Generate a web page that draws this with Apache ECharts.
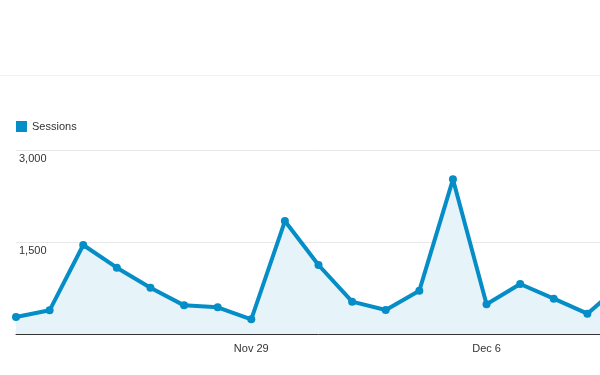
<!DOCTYPE html>
<html><head><meta charset="utf-8">
<script src="https://cdn.jsdelivr.net/npm/echarts@6/dist/echarts.min.js"></script>
<style>html,body{margin:0;padding:0;background:#fff;overflow:hidden;width:600px;height:375px}#c{width:630px;height:375px}</style>
</head><body><div id="c"></div>
<script>
const categories = ['Nov 22','Nov 23','Nov 24','Nov 25','Nov 26','Nov 27','Nov 28','Nov 29','Nov 30','Dec 1','Dec 2','Dec 3','Dec 4','Dec 5','Dec 6','Dec 7','Dec 8','Dec 9','Dec 10'];
const sessions = [277, 386, 1451, 1081, 755, 467, 435, 239, 1842, 1125, 527, 391, 706, 2522, 484, 815, 576, 331, 805];
const yTicks = [0, 1500, 3000];
const shownLabels = ['Nov 29', 'Dec 6'];

const chart = echarts.init(document.getElementById('c'), null, {renderer: 'canvas'});
chart.setOption({
  animation: false,
  backgroundColor: '#fff',
  textStyle: {fontFamily: 'Liberation Sans, Arial, sans-serif'},
  graphic: [{
    type: 'line', shape: {x1: 0, y1: 75.5, x2: 630, y2: 75.5},
    style: {stroke: '#f0f0f0', lineWidth: 1}
  }],
  legend: {
    left: 16, top: 121, padding: 0, itemWidth: 11, itemHeight: 11,
    icon: 'rect',
    textStyle: {color: '#333', fontSize: 11},
    data: ['Sessions']
  },
  grid: {left: 16, right: 9, top: 150, bottom: 41, containLabel: false},
  xAxis: {
    type: 'category', data: categories, boundaryGap: false,
    axisLine: {lineStyle: {color: '#333', width: 1}},
    axisTick: {show: false},
    axisLabel: {
      color: '#333', fontSize: 11, margin: 9,
      interval: 0,
      formatter: v => shownLabels.includes(v) ? v : ''
    },
    splitLine: {show: false}
  },
  yAxis: {
    type: 'value', min: yTicks[0], max: yTicks[yTicks.length-1], interval: 1500,
    axisLine: {show: false}, axisTick: {show: false},
    axisLabel: {
      inside: true, color: '#333', fontSize: 11, verticalAlign: 'top',
      margin: 3, padding: [3,0,0,0],
      formatter: v => v === 0 ? '' : v.toLocaleString('en-US')
    },
    splitLine: {lineStyle: {color: '#e8e8e8', width: 1}}
  },
  series: [{
    name: 'Sessions', type: 'line', data: sessions,
    color: '#058dc7',
    lineStyle: {width: 4, color: '#058dc7'},
    symbol: 'circle', symbolSize: 8, showSymbol: true,
    itemStyle: {color: '#058dc7'},
    areaStyle: {color: '#e6f3f9', opacity: 1},
    clip: true
  }]
});
</script></body></html>
